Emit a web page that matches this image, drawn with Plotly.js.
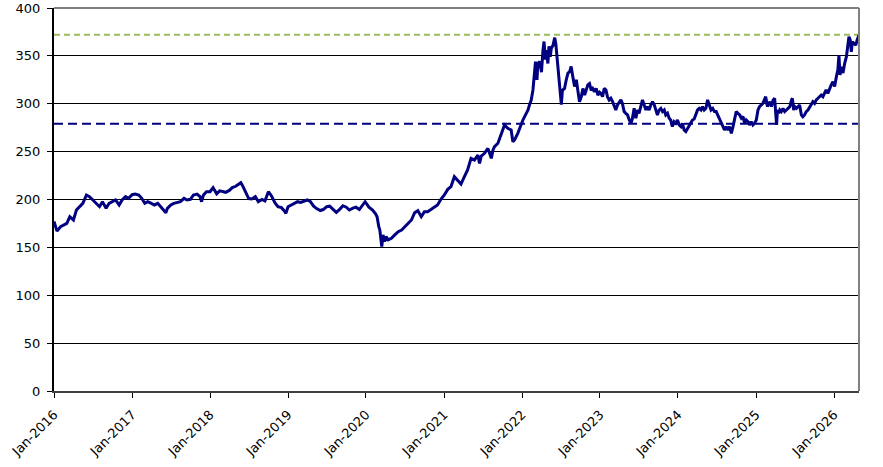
<!DOCTYPE html>
<html>
<head>
<meta charset="utf-8">
<script src="https://cdn.plot.ly/plotly-3.0.1.min.js"></script>
<style>
html,body{margin:0;padding:0;background:#fff;}
#chart{width:883px;height:467px;}
</style>
</head>
<body>
<div id="chart"></div>
<script>
// ---- data ----
const dates = [
"2016-01-01","2016-01-15","2016-02-01","2016-02-15","2016-03-01","2016-03-15","2016-04-01","2016-04-15","2016-05-01","2016-05-15","2016-06-01","2016-06-15",
"2016-07-01","2016-07-15","2016-08-01","2016-08-15","2016-09-01","2016-09-15","2016-10-01","2016-10-15","2016-11-01","2016-11-15","2016-12-01","2016-12-15",
"2017-01-01","2017-01-15","2017-02-01","2017-02-15","2017-03-01","2017-03-15","2017-04-01","2017-04-15","2017-05-01","2017-05-15","2017-06-01","2017-06-08","2017-06-15",
"2017-07-01","2017-07-15","2017-08-01","2017-08-15","2017-09-01","2017-09-15","2017-10-01","2017-10-15","2017-11-01","2017-11-15","2017-11-22","2017-12-01","2017-12-15",
"2018-01-01","2018-01-15","2018-02-01","2018-02-15","2018-03-01","2018-03-15","2018-04-01","2018-04-15","2018-05-01","2018-05-15","2018-05-25","2018-06-01","2018-06-15",
"2018-07-01","2018-07-15","2018-08-01","2018-08-15","2018-09-01","2018-09-15","2018-10-01","2018-10-15","2018-11-01","2018-11-15","2018-12-01","2018-12-15","2018-12-22",
"2019-01-01","2019-01-15","2019-02-01","2019-02-15","2019-03-01","2019-03-15","2019-04-01","2019-04-15","2019-05-01","2019-05-15","2019-06-01","2019-06-15",
"2019-07-01","2019-07-15","2019-08-01","2019-08-15","2019-09-01","2019-09-15","2019-10-01","2019-10-15","2019-11-01","2019-11-15","2019-12-01","2019-12-15","2019-12-28",
"2020-01-15","2020-02-01","2020-02-15","2020-02-22","2020-03-01","2020-03-06","2020-03-15","2020-03-21","2020-03-28","2020-04-04","2020-04-14","2020-04-29",
"2020-05-15","2020-05-31","2020-06-16","2020-07-01","2020-07-16","2020-08-01","2020-08-16","2020-08-31","2020-09-16","2020-10-01","2020-10-16","2020-11-01","2020-11-16","2020-12-01","2020-12-17",
"2021-01-02","2021-01-18","2021-02-02","2021-02-18","2021-03-05","2021-03-21","2021-04-06","2021-04-21","2021-05-07","2021-05-23","2021-06-08","2021-06-16","2021-06-24",
"2021-07-09","2021-07-25","2021-08-10","2021-08-18","2021-08-25","2021-09-10","2021-09-25","2021-10-11","2021-10-26","2021-11-11","2021-11-19","2021-11-27","2021-12-12","2021-12-28",
"2022-01-05","2022-01-13","2022-01-21","2022-01-29","2022-02-05","2022-02-13","2022-02-21","2022-03-01","2022-03-05","2022-03-12","2022-03-16","2022-03-25",
"2022-04-02","2022-04-09","2022-04-14","2022-04-20","2022-04-24","2022-05-02","2022-05-07","2022-05-13","2022-05-18","2022-05-26","2022-06-03","2022-06-08","2022-06-11",
"2022-06-16","2022-06-22","2022-06-27","2022-07-04","2022-07-09","2022-07-19","2022-07-27","2022-08-04","2022-08-12","2022-08-19","2022-08-27","2022-09-04","2022-09-12",
"2022-09-19","2022-09-27","2022-10-05","2022-10-13","2022-10-21","2022-10-29","2022-11-05","2022-11-13","2022-11-21","2022-11-28","2022-12-06","2022-12-14","2022-12-22","2022-12-30",
"2023-01-05","2023-01-13","2023-01-21","2023-01-29","2023-02-05","2023-02-13","2023-02-21","2023-03-01","2023-03-08","2023-03-16","2023-03-24","2023-04-01","2023-04-09",
"2023-04-16","2023-04-24","2023-05-02","2023-05-10","2023-05-18","2023-05-26","2023-06-02","2023-06-10","2023-06-18","2023-06-26","2023-07-03","2023-07-11","2023-07-19",
"2023-07-27","2023-08-04","2023-08-11","2023-08-19","2023-08-27","2023-09-04","2023-09-12","2023-09-20","2023-09-27","2023-10-05","2023-10-13","2023-10-21","2023-10-29",
"2023-11-05","2023-11-13","2023-11-21","2023-11-28","2023-12-06","2023-12-14","2023-12-22","2023-12-30",
"2024-01-07","2024-01-15","2024-01-22","2024-01-30","2024-02-07","2024-02-15","2024-02-23","2024-03-02","2024-03-09","2024-03-17","2024-03-25","2024-04-02","2024-04-10",
"2024-04-18","2024-04-25","2024-05-03","2024-05-11","2024-05-19","2024-05-27","2024-06-04","2024-06-12","2024-06-20","2024-06-28","2024-07-05","2024-07-13","2024-07-21",
"2024-07-29","2024-08-06","2024-08-14","2024-08-22","2024-08-30","2024-09-07","2024-09-15","2024-09-22","2024-09-30","2024-10-08","2024-10-16","2024-10-24","2024-11-01",
"2024-11-08","2024-11-16","2024-11-24","2024-12-01","2024-12-09","2024-12-17","2024-12-25",
"2025-01-02","2025-01-10","2025-01-17","2025-02-02","2025-02-10","2025-02-15","2025-02-23","2025-03-07","2025-03-14","2025-03-22","2025-03-29","2025-04-03","2025-04-07",
"2025-04-11","2025-04-17","2025-04-22","2025-04-29","2025-05-07","2025-05-15","2025-05-23","2025-05-30","2025-06-08","2025-06-16","2025-06-20","2025-06-26","2025-07-01",
"2025-07-09","2025-07-16","2025-07-24","2025-08-01","2025-08-08","2025-08-16","2025-08-24","2025-09-01","2025-09-09","2025-09-16","2025-09-24","2025-10-02","2025-10-10",
"2025-10-18","2025-10-26","2025-11-02","2025-11-10","2025-11-18","2025-11-25","2025-12-03","2025-12-11","2025-12-19","2025-12-27",
"2026-01-04","2026-01-12","2026-01-19","2026-01-24","2026-01-29","2026-02-04","2026-02-12","2026-02-20","2026-02-28","2026-03-07","2026-03-12","2026-03-18","2026-03-23",
"2026-03-28","2026-04-05","2026-04-13","2026-04-19","2026-04-23","2026-04-28"
];
const prices = [
177,167,171.6,173.4,175,182,178.6,189,192.5,196,204.7,203,
199.5,196,192.5,197.7,190.8,196,197.7,199.5,194.3,199.5,203,201.2,
205,205.7,204.7,201.2,196,197.7,196,194.3,196,192.5,189,186.2,190.8,
194.3,196,196.7,197.7,201.2,199.5,200.2,204.7,205.7,203,197.7,204.7,208.2,
208.2,212.4,206,209,208.2,207.5,209.5,212.4,213.8,215.5,217.5,215,208,
201,200.5,203,197.7,200,198.5,208.2,204,196.5,192.5,191.5,188,185.5,
192.5,194,196,197.7,197,198.5,199.5,198,193,190.5,188.5,189.5,
192.5,193,189.5,186.5,190,193.5,192,189,191,192,189.5,194,197.7,
192,189,185,182,171.6,168,150.7,163,156,161.3,157.8,159.5,
163,166.4,168.1,171.6,175.1,178.6,186.2,188.3,182.1,187.3,187.3,189.7,192.5,194.2,200.2,
204.7,210.6,213.4,223.8,220.3,216.1,223.8,230.8,243,241.2,246.4,237.7,245.4,
248.2,253.4,243,251.7,255.2,258.7,269.1,277.8,274.3,272.6,260.4,262.2,269.1,279.6,
283,286.5,290,293.5,299,303.9,314.4,335.2,344,325,342,344,
333,356,365,346,356,342,360,349,358,361,369,363,356,
342,328,314,299,314,316,325,332,333.5,339,328,318,325,
316,302,307,316,309,314,319.6,321,314,316,312.6,316,309,312,
311,307.4,316.1,314.4,307.4,304,305.7,302.2,298.8,293.5,298.8,302.2,304,
300.4,291.8,290,288.3,283,279.6,284.8,295.2,284.8,293.5,290,298.8,304,
298.8,293.5,297,293.5,298.8,302.2,298.8,293.5,288.3,293.5,295.2,291.8,293.5,
288.3,290,284.8,283,276.1,281.3,279.6,283,
277.8,276.1,279.6,272.6,270.9,274.3,276.1,279.6,283,284,290,293.5,295.2,
293.5,297,293.5,295.2,304,298.8,293.5,295.2,291.8,291.8,288.3,283,279.6,
276.1,272.6,276.1,272.6,276.1,269.1,276.1,284.8,291.8,290,288.3,284.8,286.5,
279.6,283,281.3,277.8,281.3,277.8,279.6,
283,293.5,297,300.4,305.7,307.4,297,302.2,297,304,305.7,293.5,277.8,
293.5,290,293.5,291.8,295.2,291.8,293.5,295.2,297,304,305.7,293.5,297,
295.2,297,298.8,288.3,286.5,288.3,291.8,293.5,297,298.8,302.2,300.4,304,
305.7,307.4,309.1,307.4,310.8,314.4,310.8,316.1,319.6,323,
318,328.3,335.2,350.8,330,338.7,332,342.2,349.2,361.3,370,366.5,354.3,
364.8,363,361.3,366.5,368.3,371.8
];
const upperLevel = 372;   // green dashed reference line
const lowerLevel = 279;   // navy dashed reference line
const yTickVals = [0,50,100,150,200,250,300,350,400];
const xStart = "2016-01-01";
const xEnd = "2026-04-28";

const font = {family: "DejaVu Sans, Verdana, sans-serif", size: 13, color: "#000"};

const trace = {
  x: dates, y: prices, type: "scatter", mode: "lines",
  line: {color: "#000080", width: 3},
  hoverinfo: "skip", showlegend: false
};

const layout = {
  width: 883, height: 467,
  margin: {l: 54, r: 24, t: 8, b: 76},
  paper_bgcolor: "#fff", plot_bgcolor: "#fff",
  font: font,
  showlegend: false,
  xaxis: {
    type: "date", range: [xStart, xEnd],
    tickmode: "linear", tick0: "2016-01-01", dtick: "M12",
    tickformat: "%b-%Y", tickangle: -45,
    ticks: "outside", ticklen: 5, tickcolor: "#000", tickwidth: 1,
    ticklabelstandoff: 4,
    showgrid: false, zeroline: false,
    showline: true, linecolor: "#404040", linewidth: 2,
    tickfont: font, fixedrange: true
  },
  yaxis: {
    range: [0, 400], tickvals: yTickVals,
    ticks: "outside", ticklen: 5, tickcolor: "#000", tickwidth: 1,
    ticklabelstandoff: 4,
    showgrid: true, gridcolor: "#000", gridwidth: 1,
    zeroline: false,
    showline: true, linecolor: "#000", linewidth: 2,
    tickfont: font, fixedrange: true
  },
  shapes: [
    {type: "line", xref: "paper", yref: "y", x0: 0, x1: 1, y0: upperLevel, y1: upperLevel,
     layer: "between", line: {color: "#9BBB59", width: 2, dash: "6px,4px"}},
    {type: "line", xref: "paper", yref: "y", x0: 0, x1: 1, y0: lowerLevel, y1: lowerLevel,
     layer: "between", line: {color: "#000080", width: 2, dash: "9px,5px"}},
    {type: "line", xref: "paper", yref: "paper", x0: 0, x1: 1, y0: 1, y1: 1,
     layer: "above", line: {color: "#808080", width: 2}},
    {type: "line", xref: "paper", yref: "paper", x0: 1, x1: 1, y0: 0, y1: 1,
     layer: "above", line: {color: "#808080", width: 2}}
  ]
};

Plotly.newPlot("chart", [trace], layout, {displayModeBar: false, staticPlot: true});
</script>
</body>
</html>
